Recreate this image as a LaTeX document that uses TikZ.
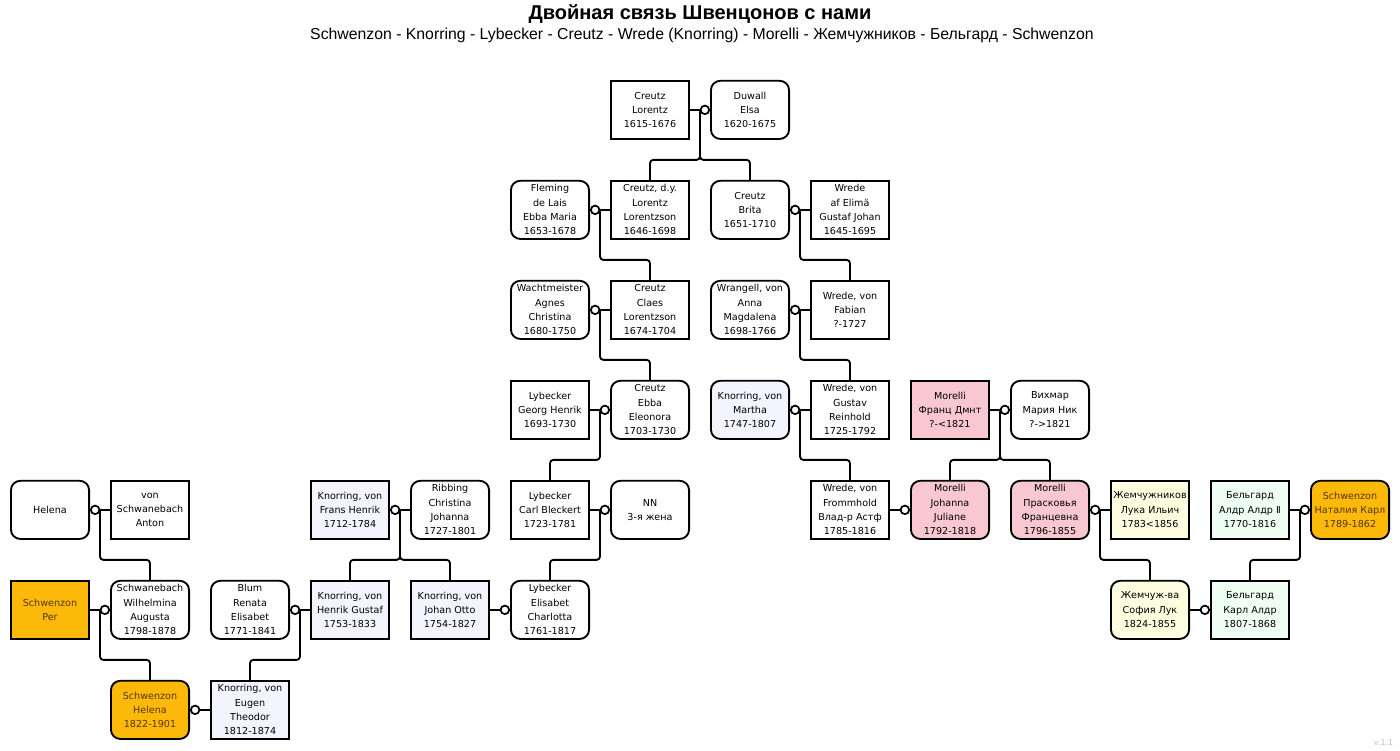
\documentclass[tikz,border=0pt]{standalone}
\usepackage{fontspec}
\setmainfont{DejaVu Sans}
\newfontfamily\headfont{Liberation Sans}
\usetikzlibrary{positioning,calc}

\definecolor{orangefill}{RGB}{252,185,10}
\definecolor{orangetext}{RGB}{85,52,0}
\definecolor{pinkfill}{RGB}{249,199,209}
\definecolor{lavfill}{RGB}{244,244,255}
\definecolor{yelfill}{RGB}{255,253,224}
\definecolor{grnfill}{RGB}{239,255,243}

\newcommand\boxfont{\fontsize{7.2}{10.75}\selectfont}

\tikzset{
  person/.style={draw, line width=1.4pt, minimum width=58.6pt, minimum height=43.6pt,
    inner sep=1pt, align=center, font=\boxfont},
  man/.style={person},
  woman/.style={person, rounded corners=7pt},
  schw/.style={fill=orangefill, text=orangetext},
  mor/.style={fill=pinkfill},
  knor/.style={fill=lavfill},
  zhem/.style={fill=yelfill},
  belg/.style={fill=grnfill},
  ring/.style={circle, draw, fill=white, line width=1.3pt, minimum size=6.4pt, inner sep=0pt},
  tie/.style={line width=1.4pt, rounded corners=2.5pt},
}

\begin{document}
\begin{tikzpicture}[x=0.75pt, y=-0.75pt]
\def\dx{100}
\def\xo{50};
\def\ya{109};
\def\yb{209};
\def\yc{309};
\def\yd{409};
\def\ye{509};
\def\yf{609};
\def\yg{709};

\fill[white] (0,0) rectangle (1400,750);

\node[font=\headfont\bfseries\fontsize{15}{18}\selectfont] (title) at (700,13) {Двойная связь Швенцонов с нами};
\node[font=\headfont\fontsize{11.85}{14}\selectfont] (sub) at (702,35)
  {Schwenzon - Knorring - Lybecker - Creutz - Wrede (Knorring) - Morelli - Жемчужников - Бельгард - Schwenzon};

% first row
\node[man] (lor) at (\xo+6*\dx, \ya) {Creutz\\Lorentz\\1615-1676};
\node[woman] (elsa) at (\xo+7*\dx, \ya) {Duwall\\Elsa\\1620-1675};

% second row
\node[woman] (ebbam) at (\xo+5*\dx, \yb) {Fleming\\de Lais\\Ebba Maria\\1653-1678};
\node[man] (lorj) at (\xo+6*\dx, \yb) {Creutz, d.y.\\Lorentz\\Lorentzson\\1646-1698};
\node[woman] (brita) at (\xo+7*\dx, \yb) {Creutz\\Brita\\1651-1710};
\node[man] (gustj) at (\xo+8*\dx, \yb) {Wrede\\af Elimä\\Gustaf Johan\\1645-1695};

% third row
\node[woman] (agnes) at (\xo+5*\dx, \yc) {Wachtmeister\\Agnes\\Christina\\1680-1750};
\node[man] (claes) at (\xo+6*\dx, \yc) {Creutz\\Claes\\Lorentzson\\1674-1704};
\node[woman] (anna) at (\xo+7*\dx, \yc) {Wrangell, von\\Anna\\Magdalena\\1698-1766};
\node[man] (fabian) at (\xo+8*\dx, \yc) {Wrede, von\\Fabian\\?-1727};

% fourth row
\node[man] (georg) at (\xo+5*\dx, \yd) {Lybecker\\Georg Henrik\\1693-1730};
\node[woman] (ebba) at (\xo+6*\dx, \yd) {Creutz\\Ebba\\Eleonora\\1703-1730};
\node[woman, knor] (martha) at (\xo+7*\dx, \yd) {Knorring, von\\Martha\\1747-1807};
\node[man] (gustr) at (\xo+8*\dx, \yd) {Wrede, von\\Gustav\\Reinhold\\1725-1792};
\node[man, mor] (franz) at (\xo+9*\dx, \yd) {Morelli\\Франц Дмнт\\?-<1821};
\node[woman] (maria) at (\xo+10*\dx, \yd) {Вихмар\\Мария Ник\\?->1821};

% fifth row
\node[woman] (helena) at (\xo, \ye) {Helena};
\node[man] (anton) at (\xo+1*\dx, \ye) {von\\Schwanebach\\Anton};
\node[man, knor] (frans) at (\xo+3*\dx, \ye) {Knorring, von\\Frans Henrik\\1712-1784};
\node[woman] (ribbing) at (\xo+4*\dx, \ye) {Ribbing\\Christina\\Johanna\\1727-1801};
\node[man] (carl) at (\xo+5*\dx, \ye) {Lybecker\\Carl Bleckert\\1723-1781};
\node[woman] (nn) at (\xo+6*\dx, \ye) {NN\\3-я жена};
\node[man] (fromm) at (\xo+8*\dx, \ye) {Wrede, von\\Frommhold\\Влад-р Астф\\1785-1816};
\node[woman, mor] (johanna) at (\xo+9*\dx, \ye) {Morelli\\Johanna\\Juliane\\1792-1818};
\node[woman, mor] (prask) at (\xo+10*\dx, \ye) {Morelli\\Прасковья\\Францевна\\1796-1855};
\node[man, zhem] (luka) at (\xo+11*\dx, \ye) {Жемчужников\\Лука Ильич\\1783<1856};
\node[man, belg] (aldr) at (\xo+12*\dx, \ye) {Бельгард\\Алдр Алдр Ⅱ\\1770-1816};
\node[woman, schw] (natalia) at (\xo+13*\dx, \ye) {Schwenzon\\Наталия Карл\\1789-1862};

% sixth row
\node[man, schw] (per) at (\xo, \yf) {Schwenzon\\Per};
\node[woman] (wilh) at (\xo+1*\dx, \yf) {Schwanebach\\Wilhelmina\\Augusta\\1798-1878};
\node[woman] (blum) at (\xo+2*\dx, \yf) {Blum\\Renata\\Elisabet\\1771-1841};
\node[man, knor] (henrik) at (\xo+3*\dx, \yf) {Knorring, von\\Henrik Gustaf\\1753-1833};
\node[man, knor] (otto) at (\xo+4*\dx, \yf) {Knorring, von\\Johan Otto\\1754-1827};
\node[woman] (elis) at (\xo+5*\dx, \yf) {Lybecker\\Elisabet\\Charlotta\\1761-1817};
\node[woman, zhem] (sofia) at (\xo+11*\dx, \yf) {Жемчуж-ва\\София Лук\\1824-1855};
\node[man, belg] (karl) at (\xo+12*\dx, \yf) {Бельгард\\Карл Алдр\\1807-1868};

% seventh row
\node[woman, schw] (shelena) at (\xo+1*\dx, \yg) {Schwenzon\\Helena\\1822-1901};
\node[man, knor] (eugen) at (\xo+2*\dx, \yg) {Knorring, von\\Eugen\\Theodor\\1812-1874};

% marriages
\draw[tie] (lor.east) -- (elsa.west);
\draw[tie] (ebbam.east) -- (lorj.west);
\draw[tie] (brita.east) -- (gustj.west);
\draw[tie] (agnes.east) -- (claes.west);
\draw[tie] (anna.east) -- (fabian.west);
\draw[tie] (georg.east) -- (ebba.west);
\draw[tie] (martha.east) -- (gustr.west);
\draw[tie] (franz.east) -- (maria.west);
\draw[tie] (helena.east) -- (anton.west);
\draw[tie] (frans.east) -- (ribbing.west);
\draw[tie] (carl.east) -- (nn.west);
\draw[tie] (fromm.east) -- (johanna.west);
\draw[tie] (prask.east) -- (luka.west);
\draw[tie] (aldr.east) -- (natalia.west);
\draw[tie] (per.east) -- (wilh.west);
\draw[tie] (blum.east) -- (henrik.west);
\draw[tie] (otto.east) -- (elis.west);
\draw[tie] (sofia.east) -- (karl.west);
\draw[tie] (shelena.east) -- (eugen.west);

% children
\coordinate (m1) at ($(lor.east)!.5!(elsa.west)$);
\coordinate (m2) at ($(ebbam.east)!.5!(lorj.west)$);
\coordinate (m3) at ($(brita.east)!.5!(gustj.west)$);
\coordinate (m4) at ($(agnes.east)!.5!(claes.west)$);
\coordinate (m5) at ($(anna.east)!.5!(fabian.west)$);
\coordinate (m6) at ($(georg.east)!.5!(ebba.west)$);
\coordinate (m7) at ($(martha.east)!.5!(gustr.west)$);
\coordinate (m8) at ($(franz.east)!.5!(maria.west)$);
\coordinate (m9) at ($(helena.east)!.5!(anton.west)$);
\coordinate (m10) at ($(frans.east)!.5!(ribbing.west)$);
\coordinate (m11) at ($(carl.east)!.5!(nn.west)$);
\coordinate (m12) at ($(prask.east)!.5!(luka.west)$);
\coordinate (m13) at ($(aldr.east)!.5!(natalia.west)$);
\coordinate (m14) at ($(per.east)!.5!(wilh.west)$);
\coordinate (m15) at ($(blum.east)!.5!(henrik.west)$);

\draw[tie] (m1) -- ++(0,50) -| (lorj.north);
\draw[tie] (m1) -- ++(0,50) -| (brita.north);
\draw[tie] (m2) -- ++(0,50) -| (claes.north);
\draw[tie] (m3) -- ++(0,50) -| (fabian.north);
\draw[tie] (m4) -- ++(0,50) -| (ebba.north);
\draw[tie] (m5) -- ++(0,50) -| (gustr.north);
\draw[tie] (m6) -- ++(0,50) -| (carl.north);
\draw[tie] (m7) -- ++(0,50) -| (fromm.north);
\draw[tie] (m8) -- ++(0,50) -| (johanna.north);
\draw[tie] (m8) -- ++(0,50) -| (prask.north);
\draw[tie] (m9) -- ++(0,50) -| (wilh.north);
\draw[tie] (m10) -- ++(0,50) -| (henrik.north);
\draw[tie] (m10) -- ++(0,50) -| (otto.north);
\draw[tie] (m11) -- ++(0,50) -| (elis.north);
\draw[tie] (m12) -- ++(0,50) -| (sofia.north);
\draw[tie] (m13) -- ++(0,50) -| (karl.north);
\draw[tie] (m14) -- ++(0,50) -| (shelena.north);
\draw[tie] (m15) -- ++(0,50) -| (eugen.north);

% rings
\node[ring, anchor=east] (r1) at (elsa.west) {};
\node[ring, anchor=west] (r2) at (ebbam.east) {};
\node[ring, anchor=west] (r3) at (brita.east) {};
\node[ring, anchor=west] (r4) at (agnes.east) {};
\node[ring, anchor=west] (r5) at (anna.east) {};
\node[ring, anchor=east] (r6) at (ebba.west) {};
\node[ring, anchor=west] (r7) at (martha.east) {};
\node[ring, anchor=east] (r8) at (maria.west) {};
\node[ring, anchor=west] (r9) at (helena.east) {};
\node[ring, anchor=west] (r10) at (frans.east) {};
\node[ring, anchor=east] (r11) at (nn.west) {};
\node[ring, anchor=east] (r12) at (johanna.west) {};
\node[ring, anchor=west] (r13) at (prask.east) {};
\node[ring, anchor=east] (r14) at (natalia.west) {};
\node[ring, anchor=east] (r15) at (wilh.west) {};
\node[ring, anchor=west] (r16) at (blum.east) {};
\node[ring, anchor=east] (r17) at (elis.west) {};
\node[ring, anchor=east] (r18) at (karl.west) {};
\node[ring, anchor=west] (r19) at (shelena.east) {};

\node[text=black!25, font=\fontsize{6}{7}\selectfont, anchor=south east] (ver) at (1398,749) {v.1.1};
\end{tikzpicture}
\end{document}
